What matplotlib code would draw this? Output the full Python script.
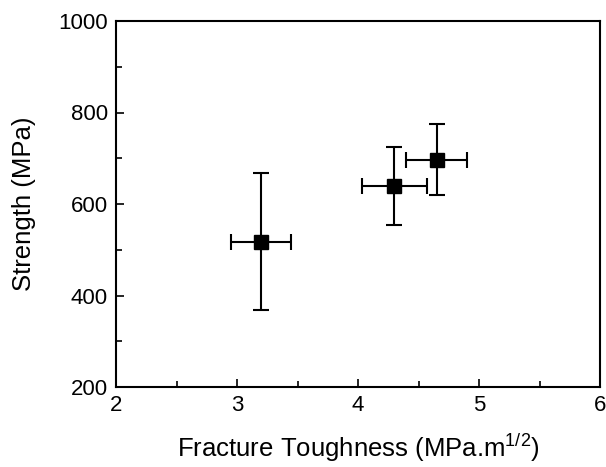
import matplotlib
matplotlib.use("Agg")
import matplotlib.pyplot as plt

toughness = [3.20, 4.30, 4.65]
toughness_err = [0.25, 0.27, 0.25]
strength = [518, 640, 697]
strength_err = [150, 85, 78]

x_ticks = [2, 3, 4, 5, 6]
y_ticks = [200, 400, 600, 800, 1000]

plt.rcParams['font.family'] = ['Liberation Sans', 'DejaVu Sans']
plt.rcParams['mathtext.fontset'] = 'custom'
plt.rcParams['mathtext.rm'] = 'Liberation Sans'

fig = plt.figure(figsize=(6.06, 4.67), dpi=100)
ax = fig.add_axes([116/606, 80/467, (600-116)/606, (387-21)/467])

ax.errorbar(toughness, strength, xerr=toughness_err, yerr=strength_err,
            fmt='s', color='black', markersize=10, ecolor='black',
            elinewidth=1.5, capsize=6, capthick=1.5)

ax.set_xlim(2, 6)
ax.set_ylim(200, 1000)
ax.set_xticks(x_ticks)
ax.set_yticks(y_ticks)
ax.set_xticks([2.5, 3.5, 4.5, 5.5], minor=True)
ax.set_yticks([300, 500, 700, 900], minor=True)
ax.tick_params(which='both', direction='in', top=False, right=False,
               width=1.2, labelsize=16, pad=6)
ax.tick_params(which='major', length=6)
ax.tick_params(which='minor', length=4)
for s in ax.spines.values():
    s.set_linewidth(1.5)

ax.set_xlabel('Fracture Toughness (MPa.m$^{\\mathrm{1/2}}$)', fontsize=18.5, labelpad=11)
ax.set_ylabel('Strength (MPa)', fontsize=18.5, labelpad=16)

fig.savefig('out.png', dpi=100)
